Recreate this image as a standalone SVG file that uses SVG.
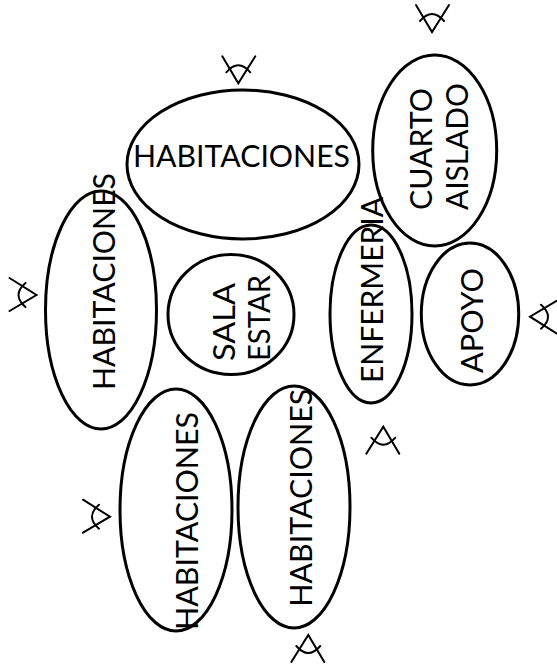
<svg xmlns="http://www.w3.org/2000/svg" xmlns:xlink="http://www.w3.org/1999/xlink" width="557" height="668" viewBox="0 0 557 668">
<style>
.room{fill:none;stroke:#000;stroke-width:3}
.lbl{font-family:Lato,"Liberation Sans","DejaVu Sans",sans-serif;font-size:31px;font-weight:400;fill:#000}
.eye{fill:none;stroke:#000;stroke-width:2;stroke-linecap:round}
</style>
<defs>
<g id="eye">
<path class="eye" d="M-16,-27 L0,0 L17,-27"/>
<path class="eye" d="M-12,-11 Q0,-25 12,-11"/>
</g>
</defs>
<rect width="557" height="668" fill="#fff"/>
<g id="hab-top">
<ellipse class="room" cx="243" cy="164.5" rx="116" ry="74.5"/>
<text class="lbl" x="133" y="167" textLength="217" lengthAdjust="spacingAndGlyphs">HABITACIONES</text>
</g>
<g id="cuarto-aislado">
<ellipse class="room" cx="434.7" cy="150.5" rx="62" ry="95.5"/>
<text class="lbl" x="431.7" y="210" transform="rotate(-90 431.7 210)" textLength="122" lengthAdjust="spacingAndGlyphs">CUARTO</text>
<text class="lbl" x="468" y="210" transform="rotate(-90 468 210)" textLength="127" lengthAdjust="spacingAndGlyphs">AISLADO</text>
</g>
<g id="hab-left">
<ellipse class="room" cx="101" cy="310" rx="55.5" ry="119"/>
<text class="lbl" x="115" y="390" transform="rotate(-90 115 390)" textLength="217" lengthAdjust="spacingAndGlyphs">HABITACIONES</text>
</g>
<g id="sala-estar">
<ellipse class="room" cx="231" cy="314.5" rx="63" ry="60"/>
<text class="lbl" x="235" y="361" transform="rotate(-90 235 361)" textLength="78" lengthAdjust="spacingAndGlyphs">SALA</text>
<text class="lbl" x="270" y="361" transform="rotate(-90 270 361)" textLength="86" lengthAdjust="spacingAndGlyphs">ESTAR</text>
</g>
<g id="enfermeria">
<ellipse class="room" cx="371" cy="314" rx="41" ry="89"/>
<text class="lbl" x="383" y="383" transform="rotate(-90 383 383)" textLength="186" lengthAdjust="spacingAndGlyphs">ENFERMERIA</text>
</g>
<g id="apoyo">
<ellipse class="room" cx="470" cy="314" rx="48.7" ry="71"/>
<text class="lbl" x="483" y="373" transform="rotate(-90 483 373)" textLength="105" lengthAdjust="spacingAndGlyphs">APOYO</text>
</g>
<g id="hab-bottom-left">
<ellipse class="room" cx="176" cy="510" rx="56" ry="121"/>
<text class="lbl" x="198" y="630" transform="rotate(-90 198 630)" textLength="218" lengthAdjust="spacingAndGlyphs">HABITACIONES</text>
</g>
<g id="hab-bottom-mid">
<ellipse class="room" cx="294" cy="507" rx="56" ry="121"/>
<text class="lbl" x="311.7" y="606.7" transform="rotate(-90 311.7 606.7)" textLength="218" lengthAdjust="spacingAndGlyphs">HABITACIONES</text>
</g>
<g id="views">
<use xlink:href="#eye" href="#eye" transform="translate(432 32)"/>
<use xlink:href="#eye" href="#eye" transform="translate(238.3 83.3)"/>
<use xlink:href="#eye" href="#eye" transform="translate(36.5 295) rotate(-90)"/>
<use xlink:href="#eye" href="#eye" transform="translate(530 316.7) rotate(90)"/>
<use xlink:href="#eye" href="#eye" transform="translate(383.3 426.7) rotate(180)"/>
<use xlink:href="#eye" href="#eye" transform="translate(308.3 635) rotate(180)"/>
<use xlink:href="#eye" href="#eye" transform="translate(110 516.7) rotate(-90)"/>
</g>
<g id="connectors"/>
</svg>
